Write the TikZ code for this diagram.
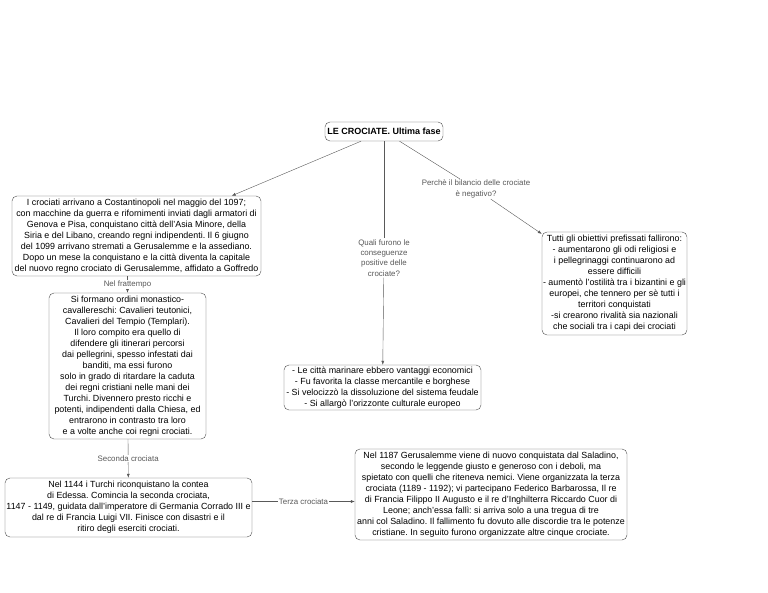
\documentclass[tikz,border=0pt]{standalone}
\usepackage{fontspec}
\setmainfont{Liberation Sans}
\usetikzlibrary{arrows.meta}
\frenchspacing

\begin{document}
\begin{tikzpicture}[x=1pt,y=-1pt,font=\fontsize{8.9}{11}\selectfont,
 box/.style={draw=black!70,rounded corners=5pt,align=center,inner sep=1pt,fill=white},
 ttl/.style={box,font=\fontsize{9}{10}\selectfont\bfseries,minimum height=19pt},
 lbl/.style={fill=white,text=black!65,align=center,inner sep=1pt,font=\fontsize{7.9}{10.3}\selectfont},
 lnk/.style={draw=black!65},
 arr/.style={lnk,-{Latex[length=4pt,width=3pt]}}]
\useasboundingbox (0,0) rectangle (768,593);
\node[ttl,minimum width=118pt] (title) at (384,131.5) {LE CROCIATE. Ultima fase};
\node[box,minimum width=249pt,minimum height=80pt] (arrivo) at (136.5,236) {I crociati arrivano a Costantinopoli nel maggio del 1097;\\ con macchine da guerra e rifornimenti inviati dagli armatori di\\ Genova e Pisa, conquistano città dell'Asia Minore, della\\ Siria e del Libano, creando regni indipendenti. Il 6 giugno\\ del 1099 arrivano stremati a Gerusalemme e la assediano.\\ Dopo un mese la conquistano e la città diventa la capitale\\ del nuovo regno crociato di Gerusalemme, affidato a Goffredo};
\node[box,minimum width=157pt,minimum height=146pt] (ordini) at (127.5,366) {Si formano ordini monastico-\\ cavallereschi: Cavalieri teutonici,\\ Cavalieri del Tempio (Templari).\\ Il loro compito era quello di\\ difendere gli itinerari percorsi\\ dai pellegrini, spesso infestati dai\\ banditi, ma essi furono\\ solo in grado di ritardare la caduta\\ dei regni cristiani nelle mani dei\\ Turchi. Divennero presto ricchi e\\ potenti, indipendenti dalla Chiesa, ed\\ entrarono in contrasto tra loro\\ e a volte anche coi regni crociati.};
\node[box,minimum width=247pt,minimum height=59pt] (seconda) at (128.5,507.5) {Nel 1144 i Turchi riconquistano la contea\\ di Edessa. Comincia la seconda crociata,\\ 1147 - 1149, guidata dall'imperatore di Germania Corrado III e\\ dal re di Francia Luigi VII. Finisce con disastri e il\\ ritiro degli eserciti crociati.};
\node[box,minimum width=272pt,minimum height=91pt] (terza) at (491,494.5) {Nel 1187 Gerusalemme viene di nuovo conquistata dal Saladino,\\ secondo le leggende giusto e generoso con i deboli, ma\\ spietato con quelli che riteneva nemici. Viene organizzata la terza\\ crociata (1189 - 1192); vi partecipano Federico Barbarossa, Il re\\ di Francia Filippo II Augusto e il re d'Inghilterra Riccardo Cuor di\\ Leone; anch'essa fallì: si arriva solo a una tregua di tre\\ anni col Saladino. Il fallimento fu dovuto alle discordie tra le potenze\\ cristiane. In seguito furono organizzate altre cinque crociate.};
\node[box,minimum width=197pt,minimum height=45pt] (positive) at (382.5,387.5) {- Le città marinare ebbero vantaggi economici\\ - Fu favorita la classe mercantile e borghese\\ - Si velocizzò la dissoluzione del sistema feudale\\ - Si allargò l'orizzonte culturale europeo};
\node[box,minimum width=133pt,minimum height=103pt] (negativo) at (614.5,283.5) {Tutti gli obiettivi prefissati fallirono:\\ - aumentarono gli odi religiosi e\\ i pellegrinaggi continuarono ad\\ essere difficili\\ - aumentò l'ostilità tra i bizantini e gli\\ europei, che tennero per sè tutti i\\ territori conquistati\\ -si crearono rivalità sia nazionali\\ che sociali tra i capi dei crociati};
% etichette
\node[lbl] (qpos) at (384,258) {Quali furono le\\ conseguenze\\ positive delle\\ crociate?};
\node[lbl] (qneg) at (476,189) {Perchè il bilancio delle crociate\\ è negativo?};
% collegamenti
\draw[arr] (title) -- (arrivo);
\draw[lnk] (title) -- (qpos);
\draw[arr] (qpos) -- (positive);
\draw[lnk] (title) -- (qneg);
\draw[arr] (qneg) -- (negativo);
\draw[arr] (arrivo.south -| ordini.north) -- node[lbl]{Nel frattempo} (ordini);
\draw[arr] (ordini) -- node[lbl]{Seconda crociata} (seconda);
\draw[arr] ([yshift=6pt]seconda.east) -- node[lbl]{Terza crociata} ([yshift=6pt]seconda.east -| terza.west);
\end{tikzpicture}
\end{document}
